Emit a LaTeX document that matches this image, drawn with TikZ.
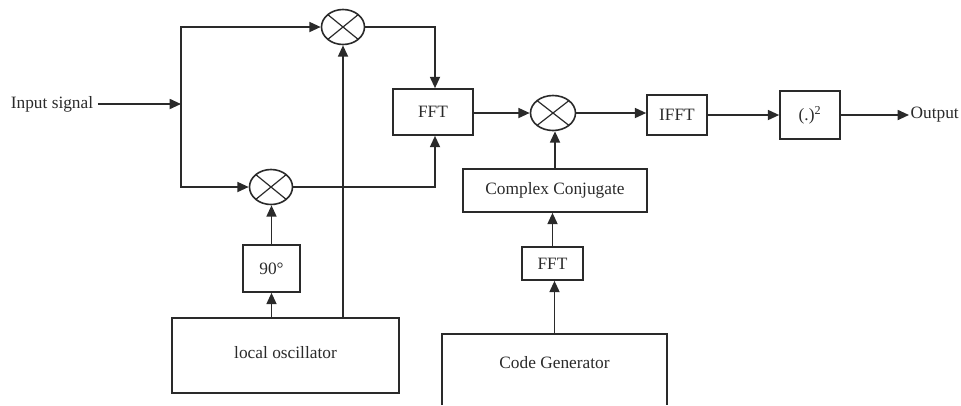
\documentclass[tikz,border=0pt]{standalone}
\usepackage{fontspec}
\setmainfont{Liberation Serif}
\usetikzlibrary{arrows.meta,shapes.geometric}
\definecolor{ink}{HTML}{2a2a2a}
\newcommand\pxu{0.75pt}
\begin{document}
\begin{tikzpicture}[x=0.75pt,y=-0.75pt,
  every node/.style={text=ink,font=\fontsize{13}{15}\selectfont},
  wire/.style={draw=ink,line width=1.3pt},
  flow/.style={wire,-{Triangle[length=8.5pt,width=7.5pt]}},
  blk/.style={draw=ink,line width=1.2pt,rectangle,inner sep=0pt},
  mix/.style={draw=ink,line width=1.2pt,ellipse,inner sep=0pt,
    path picture={
      \draw[ink,line width=0.9pt]
        (path picture bounding box.north west) -- (path picture bounding box.south east)
        (path picture bounding box.north east) -- (path picture bounding box.south west);}}]
\useasboundingbox (0,0) rectangle (961,405);

% mixers
\node[mix,minimum width=43*\pxu,minimum height=35*\pxu] (m1) at (343,27) {};
\node[mix,minimum width=43*\pxu,minimum height=35*\pxu] (m2) at (271,187) {};
\node[mix,minimum width=45*\pxu,minimum height=35*\pxu] (m3) at (553,113) {};

% processing blocks
\node[blk,minimum width=80*\pxu,minimum height=46*\pxu] (fft1) at (433,112) {FFT};
\node[blk,minimum width=57*\pxu,minimum height=47*\pxu] (ph) at (271.5,268.5) {90°};
\node[blk,minimum width=227*\pxu,minimum height=75*\pxu,text depth=4pt] (lo) at (285.5,355.5) {local oscillator};
\node[blk,minimum width=60*\pxu,minimum height=40*\pxu] (ifft) at (677,115) {IFFT};
\node[blk,minimum width=60*\pxu,minimum height=48*\pxu] (sq) at (810,115) {(.)\textsuperscript{2}};
\node[blk,minimum width=184*\pxu,minimum height=43*\pxu] (cc) at (555,190.5) {Complex Conjugate};
\node[blk,minimum width=61*\pxu,minimum height=33*\pxu] (fft2) at (552.5,263.5) {FFT};

% code generator (box runs past the lower edge)
\draw[ink,line width=1.2pt] (442,405) -- (442,334) -- (667,334) -- (667,405);
\coordinate (cgtop) at (554.5,334);
\node (cg) at (554.5,363) {Code Generator};

% input and output labels
\node (in) at (52,104) {Input signal};
\node[anchor=west,inner sep=1pt] (out) at (909,115) {Output};
\coordinate (sp) at (181,104);

% connections
\draw[flow] (in.east) -- (sp);
\draw[flow] (sp) |- (m1.west);
\draw[flow] (sp) |- (m2.west);
\draw[flow] (m1.east) -| ([xshift=1.5pt]fft1.north);
\draw[flow] (m2.east) -| ([xshift=1.5pt]fft1.south);
\draw[flow] (m1.south |- lo.north) -- (m1.south);
\draw[flow] (ph.south |- lo.north) -- (ph.south);
\draw[flow] (ph.north) -- (ph.north |- m2.south);
\draw[flow] (fft1.east |- m3.west) -- (m3.west);
\draw[flow] (m3.east) -- (m3.east -| ifft.west);
\draw[flow] (ifft.east) -- (sq.west);
\draw[flow] (sq.east) -- (out.west);
\draw[flow] (cc.north) -- (cc.north |- m3.south);
\draw[flow] (fft2.north) -- (fft2.north |- cc.south);
\draw[flow] (cgtop) -- (cgtop |- fft2.south);
\end{tikzpicture}
\end{document}
